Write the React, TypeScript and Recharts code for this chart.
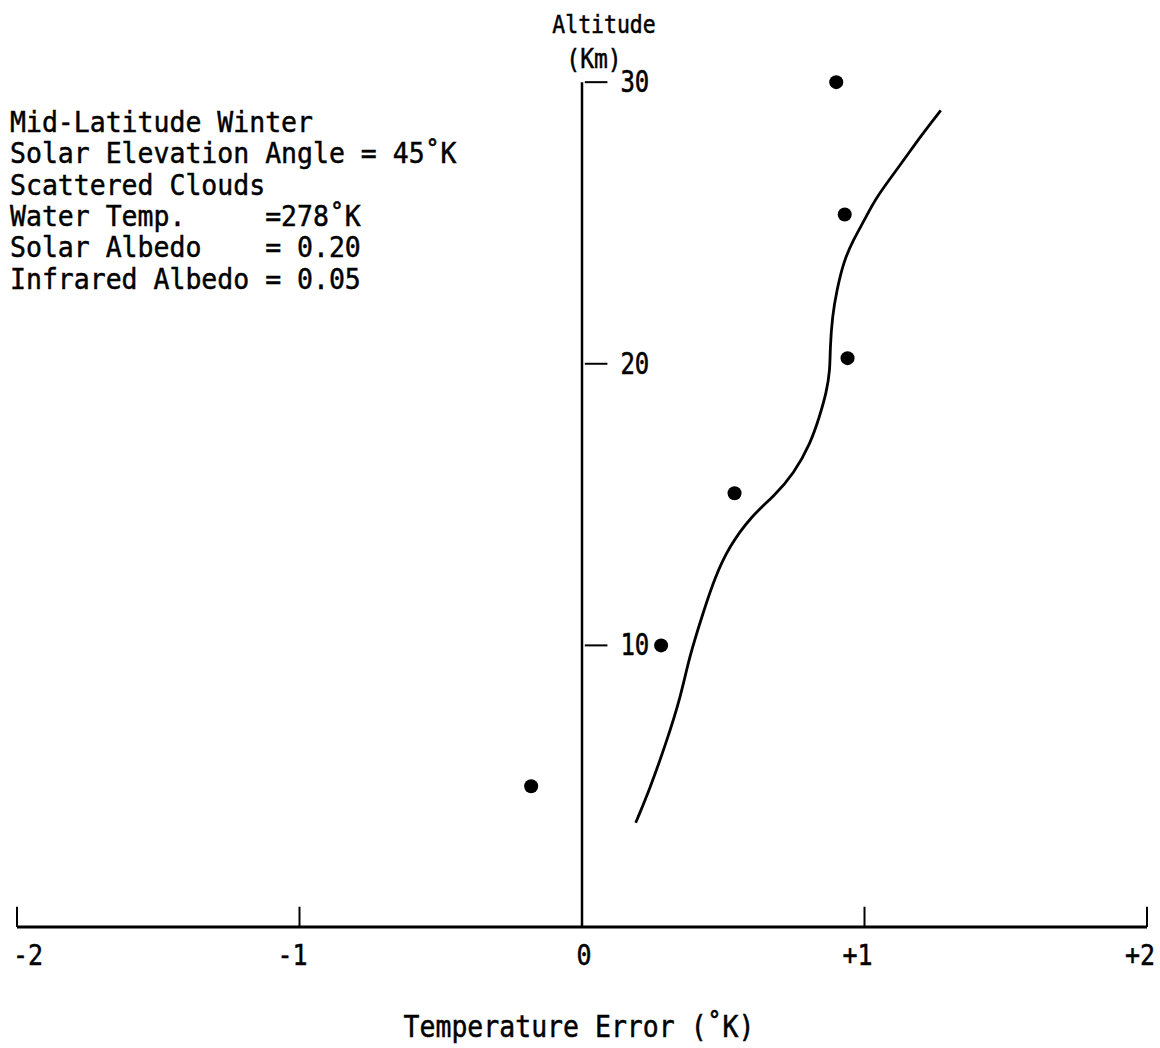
import React from "react";
import {
  ComposedChart,
  Line,
  Scatter,
  XAxis,
  YAxis,
  ReferenceLine,
} from "recharts";

const errTicks = [-2, -1, 0, 1, 2];
const altTicks = [10, 20, 30];

// retrieved temperature errors (dots)
const pointErr = [-0.18, 0.28, 0.54, 0.94, 0.93, 0.9];
const pointAlt = [5.0, 10.0, 15.4, 20.2, 25.3, 30.0];

// smooth error profile (solid line)
const curveErr = [
  0.19, 0.24, 0.3, 0.35, 0.38, 0.43, 0.47, 0.52, 0.6, 0.68, 0.75, 0.81, 0.84,
  0.866, 0.878, 0.878, 0.886, 0.902, 0.925, 0.96, 1.0, 1.04, 1.13, 1.2, 1.27,
];
const curveAlt = [
  3.7, 4.9, 6.6, 8.2, 9.6, 11.2, 12.4, 13.5, 14.6, 15.3, 16.1, 17.2, 18.1,
  19.0, 19.8, 20.5, 21.7, 22.6, 23.6, 24.4, 25.1, 25.9, 27.1, 28.1, 29.0,
];

const notes = [
  "Mid-Latitude Winter",
  "Solar Elevation Angle = 45˚K",
  "Scattered Clouds",
  "Water Temp.     =278˚K",
  "Solar Albedo    = 0.20",
  "Infrared Albedo = 0.05",
];

const points = pointErr.map((err, i) => ({ err, alt: pointAlt[i] }));
const curve = curveErr.map((err, i) => ({ err, alt: curveAlt[i] }));

const FONT = "'DejaVu Sans Mono', monospace";

// typewriter-ish text: slightly heavier strokes, optional vertical stretch
function TypeText({ x, y, size, sy = 1, anchor = "start", children }: any) {
  return (
    <text
      transform={`translate(${x} ${y}) scale(1 ${sy})`}
      x={0}
      y={0}
      textAnchor={anchor}
      fontFamily={FONT}
      fontSize={size}
      fill="#000"
      stroke="#000"
      strokeWidth={0.45}
      style={{ whiteSpace: "pre" }}
    >
      {children}
    </text>
  );
}

function ErrTick({ x, y, payload }: any) {
  const v = payload.value;
  const text = v > 0 ? `+${v}` : `${v}`;
  const dx = v === -2 ? 11 : v === 0 ? 2 : -7;
  return (
    <TypeText x={x + dx} y={y + 30} size={25} sy={1.15} anchor="middle">
      {text}
    </TypeText>
  );
}

function altLabel(value: number) {
  return (props: any) => {
    const vb = props.viewBox;
    return (
      <TypeText x={vb.x + vb.width + 13} y={vb.y + vb.height / 2 + 10} size={24} sy={1.25}>
        {String(value)}
      </TypeText>
    );
  };
}

export default function App() {
  return (
    <div style={{ position: "absolute", left: 0, top: 0, background: "#fff" }}>
      <ComposedChart
        width={1160}
        height={1048}
        margin={{ top: 54, right: 13, bottom: 81, left: 17 }}
      >
        <XAxis
          type="number"
          dataKey="err"
          domain={[-2, 2]}
          ticks={errTicks}
          height={40}
          tickLine={false}
          axisLine={{ stroke: "#000", strokeWidth: 3 }}
          tick={<ErrTick />}
        />
        <YAxis type="number" dataKey="alt" domain={[0, 31]} hide />

        {/* upward tick marks on the error axis */}
        {errTicks.map((t) => (
          <ReferenceLine
            key={`xt${t}`}
            segment={[
              { x: t, y: 0 },
              { x: t, y: 0.72 },
            ]}
            stroke="#000"
            strokeWidth={2}
          />
        ))}

        {/* altitude axis drawn through zero error */}
        <ReferenceLine
          segment={[
            { x: 0, y: 0 },
            { x: 0, y: 30 },
          ]}
          stroke="#000"
          strokeWidth={2.5}
        />
        {altTicks.map((t) => (
          <ReferenceLine
            key={`yt${t}`}
            segment={[
              { x: 0.01, y: t },
              { x: 0.09, y: t },
            ]}
            stroke="#000"
            strokeWidth={2}
            label={altLabel(t)}
          />
        ))}

        <Line
          data={curve}
          dataKey="alt"
          type="basis"
          stroke="#000"
          strokeWidth={2.8}
          dot={false}
          isAnimationActive={false}
        />
        <Scatter
          data={points}
          fill="#000"
          isAnimationActive={false}
          shape={(p: any) => <circle cx={p.cx} cy={p.cy} r={7} fill="#000" />}
        />

        <TypeText x={604} y={33} size={21.5} sy={1.12} anchor="middle">
          Altitude
        </TypeText>
        <TypeText x={594} y={68} size={23} sy={1.15} anchor="middle">
          (Km)
        </TypeText>

        {notes.map((line, i) => (
          <TypeText key={line} x={10} y={132 + i * 31.3} size={26.5} sy={1.05}>
            {line}
          </TypeText>
        ))}

        <TypeText x={579} y={1037} size={26.5} sy={1.12} anchor="middle">
          Temperature Error (˚K)
        </TypeText>
      </ComposedChart>
    </div>
  );
}
